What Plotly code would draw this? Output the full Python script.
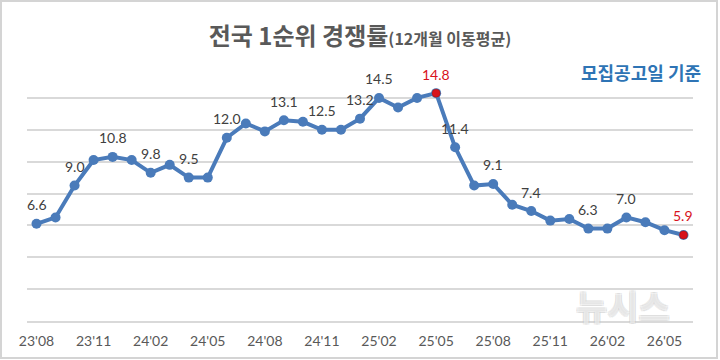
import plotly.graph_objects as go

# ---- data ----
months = ["23'08", "23'09", "23'10", "23'11", "23'12",
          "24'01", "24'02", "24'03", "24'04", "24'05", "24'06", "24'07", "24'08", "24'09", "24'10", "24'11", "24'12",
          "25'01", "25'02", "25'03", "25'04", "25'05", "25'06", "25'07", "25'08", "25'09", "25'10", "25'11", "25'12",
          "26'01", "26'02", "26'03", "26'04", "26'05", "26'06"]
ratio = [6.6, 7.0, 9.0, 10.6, 10.8, 10.6, 9.8, 10.3, 9.5, 9.5, 12.0, 12.9, 12.4, 13.1, 13.0, 12.5, 12.5,
         13.2, 14.5, 13.9, 14.5, 14.8, 11.4, 9.0, 9.1, 7.8, 7.4, 6.8, 6.9, 6.3, 6.3, 7.0, 6.7, 6.2, 5.9]
tick_months = ["23'08", "23'11", "24'02", "24'05", "24'08", "24'11", "25'02", "25'05", "25'08", "25'11", "26'02", "26'05"]
labeled_months = ["23'08", "23'10", "23'12", "24'02", "24'04", "24'06", "24'09", "24'11", "25'01", "25'02",
                  "25'05", "25'06", "25'08", "25'10", "26'01", "26'03", "26'06"]
highlight_months = ["25'05", "26'06"]
grid_values = [0.5, 2.5, 4.5, 6.5, 8.5, 10.5, 12.5, 14.5]

title_main = "전국 1순위 경쟁률"
title_sub = "(12개월 이동평균)"
note = "모집공고일 기준"
watermark = "뉴시스"

BLUE = "#4a7bba"
RED = "#d8121c"
GRID = "#d9d9d9"

fig = go.Figure()
fig.add_trace(go.Scatter(
    x=months, y=ratio, mode="lines+markers",
    line=dict(color=BLUE, width=4),
    marker=dict(color=BLUE, size=10),
    hoverinfo="skip", showlegend=False,
))
val = dict(zip(months, ratio))
fig.add_trace(go.Scatter(
    x=highlight_months, y=[val[m] for m in highlight_months], mode="markers",
    marker=dict(color=RED, size=8, line=dict(color="#a01010", width=0.5)),
    hoverinfo="skip", showlegend=False,
))

for m in labeled_months:
    fig.add_annotation(
        x=m, y=val[m], text=f"{val[m]:.1f}", showarrow=False,
        yshift=19, yanchor="middle", xanchor="center",
        font=dict(family="Lato", size=14, color=RED if m in highlight_months else "#404040"),
    )

fig.add_annotation(
    xref="paper", yref="paper", x=1.015, y=1.04, xanchor="right", yanchor="middle",
    text=f"<b>{note}</b>", showarrow=False,
    font=dict(family="Noto Sans CJK KR", size=18, color="#2e74b5"),
)

# faint watermark
fig.add_annotation(
    xref="paper", yref="paper", x=0.895, y=(321 - 305) / 239, xanchor="center", yanchor="middle",
    text=f"<b>{watermark}</b>", showarrow=False,
    font=dict(family="Noto Sans CJK KR", size=34, color="rgba(255,255,255,0.5)",
              shadow="1px 1px 0 rgba(190,190,190,0.6), -1px -1px 0 rgba(190,190,190,0.6), "
                     "1px -1px 0 rgba(190,190,190,0.6), -1px 1px 0 rgba(190,190,190,0.6)"),
)

# frame
fig.add_shape(type="rect", xref="paper", yref="paper",
              x0=(1 - 27) / 666, x1=(717 - 27) / 666,
              y0=(321 - 358) / 239, y1=(321 - 1) / 239,
              line=dict(color="#d4d4d4", width=2), fillcolor="rgba(0,0,0,0)", layer="below")

fig.update_layout(
    width=720, height=360,
    margin=dict(l=27, r=27, t=82, b=39),
    paper_bgcolor="white", plot_bgcolor="white",
    title=dict(
        text=f"<b>{title_main}<span style='font-size:16px'>{title_sub}</span></b>",
        x=0.5, xanchor="center", y=1 - 37 / 360, yanchor="middle", yref="container",
        font=dict(family="Noto Sans CJK KR", size=24, color="#595959"),
    ),
    xaxis=dict(
        type="category", categoryorder="array", categoryarray=months,
        range=[-0.5, len(months) - 0.5],
        tickmode="array", tickvals=tick_months, ticktext=tick_months,
        showgrid=False, zeroline=False,
        showline=True, linecolor=GRID, linewidth=1.5,
        ticks="outside", ticklen=6, tickcolor="rgba(0,0,0,0)",
        tickfont=dict(family="Lato", size=14, color="#595959"),
    ),
    yaxis=dict(
        range=[0.5, 15.5], tickmode="array", tickvals=grid_values,
        showticklabels=False, showgrid=True, gridcolor=GRID, gridwidth=1.5,
        zeroline=False, showline=False,
    ),
)

fig.write_html("out.html")
